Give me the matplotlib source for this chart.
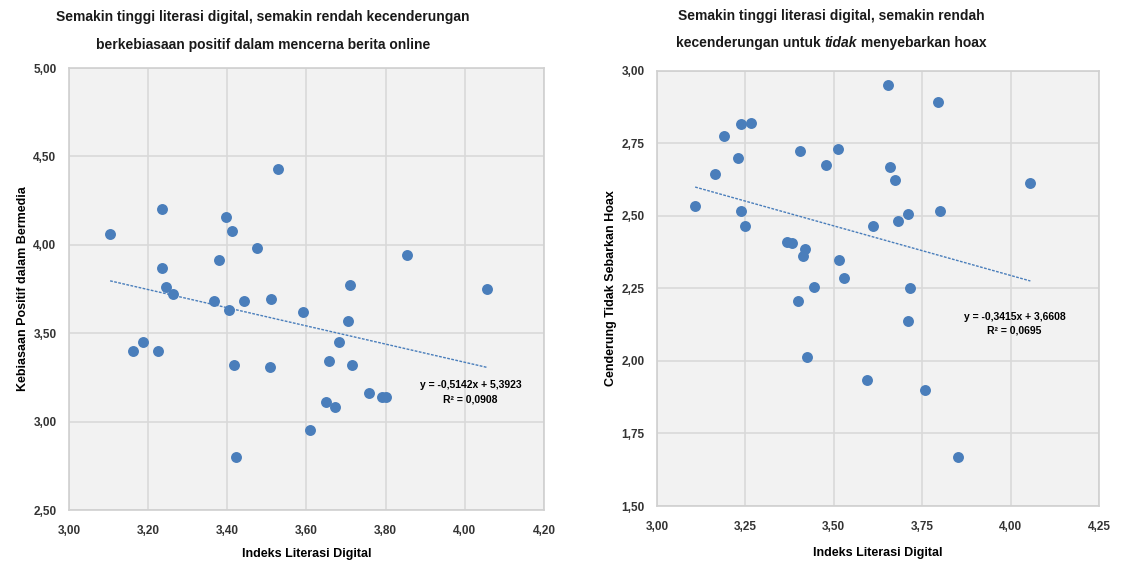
import numpy as np
import matplotlib
matplotlib.use('Agg')
import matplotlib.pyplot as plt
from matplotlib.ticker import FuncFormatter

plt.rcParams['font.family'] = ['Liberation Sans', 'DejaVu Sans']

# left chart: literasi digital vs kebiasaan positif
lit_left = [3.104, 3.235, 3.397, 3.413, 3.529, 3.476, 3.380, 3.235, 3.853, 3.246,
            3.263, 3.367, 3.405, 3.443, 3.511, 3.592, 3.709, 3.706, 4.056, 3.681,
            3.187, 3.162, 3.225, 3.418, 3.509, 3.656, 3.714, 3.757, 3.792, 3.800,
            3.650, 3.673, 3.610, 3.423]
kebiasaan = [4.06, 4.20, 4.16, 4.08, 4.43, 3.98, 3.915, 3.87, 3.94, 3.76,
             3.72, 3.68, 3.63, 3.68, 3.695, 3.62, 3.77, 3.57, 3.75, 3.45,
             3.45, 3.40, 3.40, 3.32, 3.31, 3.345, 3.32, 3.16, 3.14, 3.14,
             3.11, 3.08, 2.955, 2.80]

# right chart: literasi digital vs cenderung tidak sebarkan hoax
lit_right = [3.108, 3.165, 3.191, 3.238, 3.266, 3.228, 3.239, 3.248, 3.405, 3.512,
             3.477, 3.654, 3.796, 3.658, 3.673, 4.056, 3.709, 3.800, 3.682, 3.612,
             3.369, 3.381, 3.420, 3.413, 3.514, 3.530, 3.445, 3.715, 3.399, 3.709,
             3.424, 3.594, 3.758, 3.852]
hoax = [2.534, 2.643, 2.775, 2.815, 2.820, 2.700, 2.517, 2.464, 2.725, 2.732,
        2.674, 2.950, 2.892, 2.668, 2.625, 2.615, 2.507, 2.517, 2.482, 2.466,
        2.410, 2.406, 2.386, 2.363, 2.348, 2.285, 2.255, 2.253, 2.207, 2.136,
        2.014, 1.933, 1.901, 1.670]

# trendline coefficients as printed on the chart
slope_left, icpt_left, r2_left = -0.5142, 5.3923, 0.0908
slope_right, icpt_right, r2_right = -0.3415, 3.6608, 0.0695

blue = '#4a7ebb'
comma = FuncFormatter(lambda v, p: f'{v:.2f}'.replace('.', ','))


def style_axes(ax):
    ax.set_facecolor('#f2f2f2')
    ax.grid(True, color='#d9d9d9', lw=1.2)
    ax.set_axisbelow(True)
    for s in ax.spines.values():
        s.set_color('#d0d0d0')
        s.set_linewidth(1.2)
    ax.tick_params(length=0, labelsize=8.5, labelcolor='#333333')
    ax.tick_params(axis='x', pad=11)
    ax.tick_params(axis='y', pad=9)
    for lab in ax.get_xticklabels() + ax.get_yticklabels():
        lab.set_fontweight('bold')
    ax.xaxis.set_major_formatter(comma)
    ax.yaxis.set_major_formatter(comma)


def draw(ax, x, y, slope, icpt, r2, eq_pos):
    ax.scatter(x, y, s=62, color=blue, zorder=3, linewidths=0)
    xs = np.array([min(x), max(x)])
    ax.plot(xs, slope * xs + icpt, color=blue, lw=1, ls=(0, (2, 1)), zorder=2)
    eq = f'y = {slope:.4f}x + {icpt:.4f}'.replace('.', ',')
    ax.text(eq_pos[0], eq_pos[1], eq + '\n' + f'R² = {r2:.4f}'.replace('.', ','),
            ha='center', va='center', fontsize=7.5, fontweight='bold',
            linespacing=1.5, zorder=4)


fig = plt.figure(figsize=(11.23, 5.62), dpi=100)

ax1 = fig.add_axes([0.0614, 0.0925, 0.423, 0.7865])
draw(ax1, lit_left, kebiasaan, slope_left, icpt_left, r2_left, (4.015, 3.165))
ax1.set_xlim(3.0, 4.2)
ax1.set_ylim(2.5, 5.0)
ax1.set_xticks(np.arange(3.0, 4.21, 0.2))
ax1.set_yticks(np.arange(2.5, 5.01, 0.5))
style_axes(ax1)
ax1.set_xlabel('Indeks Literasi Digital', fontsize=9, fontweight='bold', labelpad=8)
ax1.set_ylabel('Kebiasaan Positif dalam Bermedia', fontsize=9, fontweight='bold', labelpad=3)

ax2 = fig.add_axes([0.585, 0.0996, 0.3936, 0.7744])
draw(ax2, lit_right, hoax, slope_right, icpt_right, r2_right, (4.011, 2.128))
ax2.set_xlim(3.0, 4.25)
ax2.set_ylim(1.5, 3.0)
ax2.set_xticks(np.arange(3.0, 4.26, 0.25))
ax2.set_yticks(np.arange(1.5, 3.01, 0.25))
style_axes(ax2)
ax2.set_xlabel('Indeks Literasi Digital', fontsize=9, fontweight='bold', labelpad=10)
ax2.set_ylabel('Cenderung Tidak Sebarkan Hoax', fontsize=9, fontweight='bold', labelpad=3)

tkw = dict(va='center', fontsize=10, fontweight='bold', color='#1a1a1a')
fig.text(263 / 1123, 1 - 17 / 562,
         'Semakin tinggi literasi digital, semakin rendah kecenderungan', ha='center', **tkw)
fig.text(263 / 1123, 1 - 45 / 562,
         'berkebiasaan positif dalam mencerna berita online', ha='center', **tkw)
fig.text(831 / 1123, 1 - 16 / 562,
         'Semakin tinggi literasi digital, semakin rendah', ha='center', **tkw)

# second line of right title with italic "tidak"
parts = [('kecenderungan untuk ', 'normal'), ('tidak', 'italic'), (' menyebarkan hoax', 'normal')]
renderer = fig.canvas.get_renderer()
texts = [fig.text(0, 1 - 43 / 562, s, ha='left', style=st, **tkw) for s, st in parts]
widths = [t.get_window_extent(renderer).width for t in texts]
x0 = 831 - sum(widths) / 2
for t, w in zip(texts, widths):
    t.set_x(x0 / 1123)
    x0 += w

fig.savefig('out.png', dpi=100, facecolor='white')
